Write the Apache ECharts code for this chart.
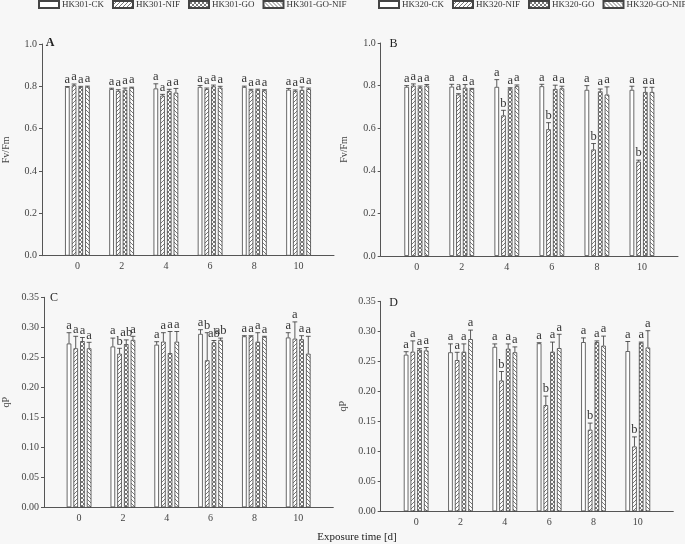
<!DOCTYPE html>
<html>
<head>
<meta charset="utf-8">
<script src="https://cdn.jsdelivr.net/npm/echarts@6/dist/echarts.min.js"></script>
<style>
html,body{margin:0;padding:0;background:#f7f7f7;}
#chart{width:685px;height:544px;}
</style>
</head>
<body>
<div id="chart"></div>
<script>
var days = [0, 2, 4, 6, 8, 10];
var names301 = ['HK301-CK', 'HK301-NIF', 'HK301-GO', 'HK301-GO-NIF'];
var names320 = ['HK320-CK', 'HK320-NIF', 'HK320-GO', 'HK320-GO-NIF'];

// A: HK301 Fv/Fm
var aCK    = [0.797, 0.787, 0.790, 0.797, 0.797, 0.784];
var aNIF   = [0.805, 0.778, 0.756, 0.787, 0.781, 0.778];
var aGO    = [0.797, 0.784, 0.778, 0.800, 0.784, 0.783];
var aGONIF = [0.798, 0.794, 0.770, 0.794, 0.781, 0.787];
var aCKsd    = [0.002, 0.004, 0.022, 0.007, 0.004, 0.006];
var aNIFsd   = [0.006, 0.006, 0.006, 0.005, 0.005, 0.005];
var aGOsd    = [0.003, 0.008, 0.008, 0.006, 0.003, 0.014];
var aGONIFsd = [0.003, 0.002, 0.020, 0.006, 0.003, 0.005];

// B: HK320 Fv/Fm
var bCK    = [0.794, 0.795, 0.794, 0.797, 0.780, 0.780];
var bNIF   = [0.800, 0.758, 0.660, 0.595, 0.500, 0.443];
var bGO    = [0.792, 0.790, 0.787, 0.784, 0.773, 0.770];
var bGONIF = [0.800, 0.784, 0.797, 0.787, 0.758, 0.770];
var bCKsd    = [0.006, 0.011, 0.034, 0.009, 0.020, 0.017];
var bNIFsd   = [0.008, 0.004, 0.024, 0.031, 0.028, 0.007];
var bGOsd    = [0.006, 0.015, 0.003, 0.018, 0.011, 0.022];
var bGONIFsd = [0.005, 0.003, 0.006, 0.010, 0.036, 0.022];

// C: HK301 qP
var cCK    = [0.273, 0.268, 0.271, 0.289, 0.285, 0.283];
var cNIF   = [0.265, 0.256, 0.276, 0.245, 0.285, 0.281];
var cGO    = [0.277, 0.272, 0.257, 0.275, 0.276, 0.280];
var cGONIF = [0.265, 0.279, 0.276, 0.279, 0.284, 0.256];
var cCKsd    = [0.018, 0.014, 0.005, 0.007, 0.001, 0.008];
var cNIFsd   = [0.020, 0.009, 0.015, 0.046, 0.001, 0.028];
var cGOsd    = [0.006, 0.007, 0.036, 0.003, 0.015, 0.006];
var cGONIFsd = [0.010, 0.006, 0.017, 0.003, 0.001, 0.029];

// D: HK320 qP
var dCK    = [0.261, 0.265, 0.274, 0.280, 0.282, 0.267];
var dNIF   = [0.266, 0.252, 0.218, 0.177, 0.136, 0.108];
var dGO    = [0.269, 0.266, 0.271, 0.266, 0.282, 0.281];
var dGONIF = [0.268, 0.287, 0.265, 0.272, 0.276, 0.273];
var dCKsd    = [0.005, 0.014, 0.005, 0.001, 0.007, 0.016];
var dNIFsd   = [0.018, 0.013, 0.015, 0.015, 0.011, 0.016];
var dGOsd    = [0.002, 0.013, 0.008, 0.016, 0.002, 0.001];
var dGONIFsd = [0.005, 0.015, 0.009, 0.023, 0.016, 0.028];

// significance letters
var allA   = ['a', 'a', 'a', 'a', 'a', 'a'];
var bNIFl  = ['a', 'a', 'b', 'b', 'b', 'b'];
var cNIFl  = ['a', 'b', 'a', 'b', 'a', 'a'];
var cGOl   = ['a', 'ab', 'a', 'ab', 'a', 'a'];
var cGONIFl = ['a', 'a', 'a', 'ab', 'a', 'a'];
var dNIFl  = ['a', 'a', 'b', 'b', 'b', 'b'];

var FONT = '"Liberation Serif", "DejaVu Serif", serif';
var BW = 4.6, GAP = 2.1, PITCH = BW + GAP;

function makePattern(type) {
  var c = document.createElement('canvas');
  c.width = 4; c.height = 4;
  var ctx = c.getContext('2d');
  ctx.fillStyle = '#ffffff'; ctx.fillRect(0, 0, 4, 4);
  ctx.strokeStyle = '#555'; ctx.lineWidth = 0.8;
  ctx.beginPath();
  if (type === 'fwd' || type === 'cross') {
    ctx.moveTo(0, 4); ctx.lineTo(4, 0);
    ctx.moveTo(-1, 1); ctx.lineTo(1, -1);
    ctx.moveTo(3, 5); ctx.lineTo(5, 3);
  }
  if (type === 'back' || type === 'cross') {
    ctx.moveTo(0, 0); ctx.lineTo(4, 4);
    ctx.moveTo(-1, 3); ctx.lineTo(1, 5);
    ctx.moveTo(3, -1); ctx.lineTo(5, 1);
  }
  ctx.stroke();
  return c;
}
var fills = ['#ffffff',
  { image: makePattern('fwd'), repeat: 'repeat' },
  { image: makePattern('cross'), repeat: 'repeat' },
  { image: makePattern('back'), repeat: 'repeat' }];

var panels = [
  { grid: { left: 37, top: 44, width: 297, height: 211.7 }, max: 1.0, interval: 0.2, dec: 1, yName: 'Fv/Fm', nameGap: 31,
    names: names301, means: [aCK, aNIF, aGO, aGONIF], sds: [aCKsd, aNIFsd, aGOsd, aGONIFsd], letters: [allA, allA, allA, allA] },
  { grid: { left: 380.7, top: 43, width: 297.3, height: 213 }, max: 1.0, interval: 0.2, dec: 1, yName: 'Fv/Fm', nameGap: 31,
    names: names320, means: [bCK, bNIF, bGO, bGONIF], sds: [bCKsd, bNIFsd, bGOsd, bGONIFsd], letters: [allA, bNIFl, allA, allA] },
  { grid: { left: 40.7, top: 297.3, width: 292.6, height: 210 }, max: 0.35, interval: 0.05, dec: 2, yName: 'qP', nameGap: 33,
    names: names301, means: [cCK, cNIF, cGO, cGONIF], sds: [cCKsd, cNIFsd, cGOsd, cGONIFsd], letters: [allA, cNIFl, cGOl, cGONIFl] },
  { grid: { left: 380.7, top: 301.3, width: 292.6, height: 210 }, max: 0.35, interval: 0.05, dec: 2, yName: 'qP', nameGap: 32,
    names: names320, means: [dCK, dNIF, dGO, dGONIF], sds: [dCKsd, dNIFsd, dGOsd, dGONIFsd], letters: [allA, dNIFl, allA, allA] }
];

function errRender(offset, sd, letters) {
  return function(params, api) {
    var i = params.dataIndex;
    var x = api.value(0), m = api.value(1);
    var p0 = api.coord([x, m]), p1 = api.coord([x, m + sd[i]]);
    var cx = p0[0] + offset;
    return { type: 'group', children: [
      { type: 'line', shape: { x1: cx, y1: p0[1], x2: cx, y2: p1[1] }, style: { stroke: '#333', lineWidth: 0.8 } },
      { type: 'line', shape: { x1: cx - 2.4, y1: p1[1], x2: cx + 2.4, y2: p1[1] }, style: { stroke: '#333', lineWidth: 0.8 } },
      { type: 'text', x: cx, y: p1[1] - 0.5, style: { text: letters[i], fill: '#333', font: '12.5px ' + FONT, align: 'center', verticalAlign: 'bottom' } }
    ] };
  };
}

var grids = [], xAxes = [], yAxes = [], series = [];
panels.forEach(function(p, k) {
  grids.push(p.grid);
  xAxes.push({
    type: 'value', gridIndex: k, min: -1.6, max: 11.6,
    axisLine: { show: true, onZero: false, lineStyle: { color: '#555', width: 1 } },
    axisTick: { show: false }, splitLine: { show: false },
    axisLabel: { customValues: days, color: '#444', fontFamily: FONT, fontSize: 10, margin: 6 }
  });
  yAxes.push({
    type: 'value', gridIndex: k, min: 0, max: p.max, interval: p.interval,
    name: p.yName, nameLocation: 'middle', nameRotate: 90, nameGap: p.nameGap,
    nameTextStyle: { color: '#444', fontFamily: FONT, fontSize: 10 },
    axisLine: { show: true, onZero: false, lineStyle: { color: '#555', width: 1 } },
    axisTick: { show: true, length: 3, lineStyle: { color: '#555' } },
    splitLine: { show: false },
    axisLabel: { color: '#444', fontFamily: FONT, fontSize: 10, margin: 5,
      formatter: function(v) { return v.toFixed(p.dec); } }
  });
  p.names.forEach(function(nm, i) {
    series.push({
      name: nm, type: 'bar', xAxisIndex: k, yAxisIndex: k,
      barWidth: BW, barGap: (GAP / BW * 100) + '%',
      itemStyle: { color: fills[i], borderColor: '#444', borderWidth: 0.8 },
      data: days.map(function(d, j) { return [d, p.means[i][j]]; })
    });
    series.push({
      type: 'custom', xAxisIndex: k, yAxisIndex: k, clip: false, silent: true,
      renderItem: errRender((i - 1.5) * PITCH, p.sds[i], p.letters[i]),
      data: days.map(function(d, j) { return [d, p.means[i][j]]; }),
      z: 3
    });
  });
});

var legendBase = { top: 0, padding: 0, width: 420, itemWidth: 20, itemHeight: 7, itemGap: 8, icon: 'rect', selectedMode: false,
  textStyle: { color: '#333', fontFamily: FONT, fontSize: 9, padding: [0, 0, 0, -2] } };

var chart = echarts.init(document.getElementById('chart'));
chart.setOption({
  backgroundColor: '#f7f7f7',
  animation: false,
  legend: [
    Object.assign({}, legendBase, { left: 38, data: names301 }),
    Object.assign({}, legendBase, { left: 378, data: names320 })
  ],
  grid: grids, xAxis: xAxes, yAxis: yAxes, series: series,
  graphic: [
    { type: 'text', x: 50, y: 42.5, style: { text: 'A', font: 'bold 12px ' + FONT, fill: '#222', align: 'center', verticalAlign: 'middle' } },
    { type: 'text', x: 393.5, y: 44, style: { text: 'B', font: '12px ' + FONT, fill: '#222', align: 'center', verticalAlign: 'middle' } },
    { type: 'text', x: 54, y: 298, style: { text: 'C', font: '12px ' + FONT, fill: '#222', align: 'center', verticalAlign: 'middle' } },
    { type: 'text', x: 393.5, y: 302.5, style: { text: 'D', font: '12px ' + FONT, fill: '#222', align: 'center', verticalAlign: 'middle' } },
    { type: 'text', x: 357, y: 537, style: { text: 'Exposure time [d]', font: '11px ' + FONT, fill: '#222', align: 'center', verticalAlign: 'middle' } }
  ]
});
</script>
</body>
</html>
